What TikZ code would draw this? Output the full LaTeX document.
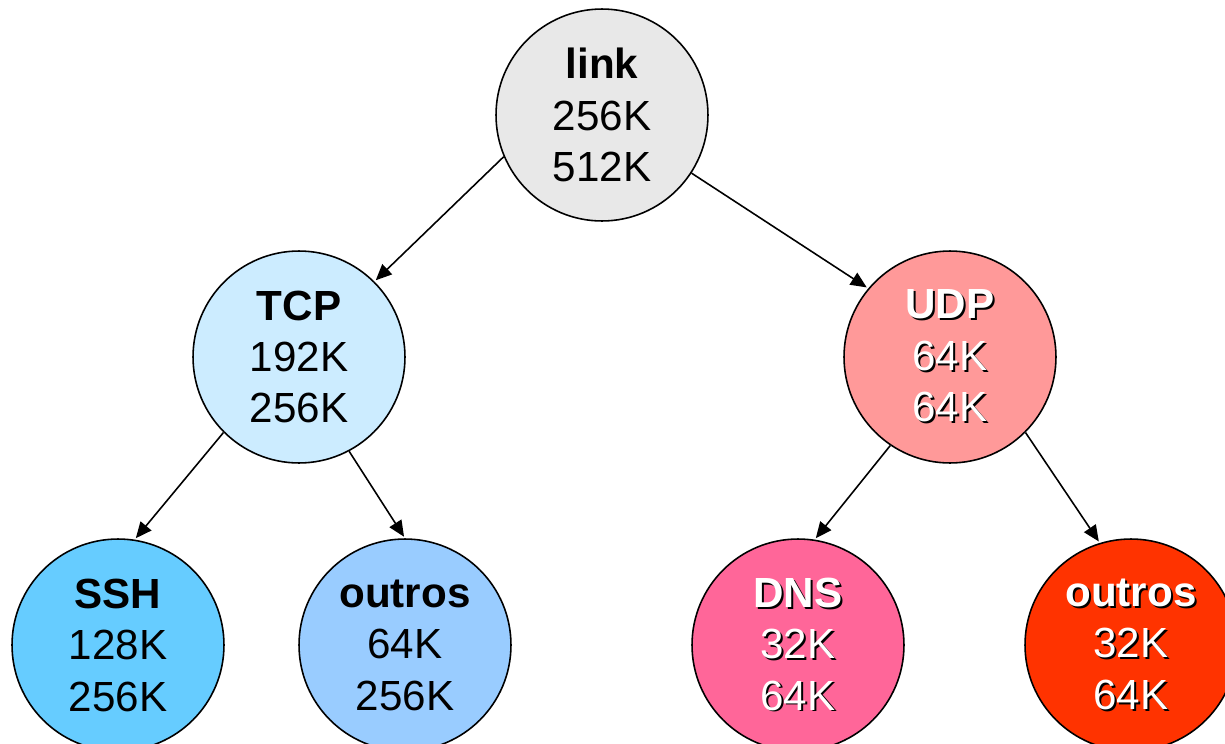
\documentclass[tikz,border=0pt]{standalone}
\usepackage{fontspec}
\setmainfont{Liberation Sans}
\usetikzlibrary{arrows.meta}
\definecolor{clink}{HTML}{E8E8E8}
\definecolor{ctcp}{HTML}{CCECFF}
\definecolor{cudp}{HTML}{FF9999}
\definecolor{cssh}{HTML}{66CCFF}
\definecolor{ctout}{HTML}{99CCFF}
\definecolor{cdns}{HTML}{FF6699}
\definecolor{cuout}{HTML}{FF3300}
\newcommand{\shtxt}[1]{\makebox[0pt][l]{\raisebox{-1.1pt}{\hspace{1.1pt}\textcolor{black}{#1}}}\textcolor{white}{#1}}
\tikzset{
  tnode/.style={circle, draw=black, line width=0.9pt, minimum size=4.24cm, inner sep=0pt,
    align=center, font=\fontsize{24}{29.3}\selectfont, text=black},
  conn/.style={draw=black, line width=0.9pt, -{Triangle[length=3.2mm,width=2.8mm]}, shorten >=1pt}
}
\begin{document}
\begin{tikzpicture}[x=0.02cm,y=-0.02cm]
\useasboundingbox (0,0) rectangle (1225,744);
\clip (0,0) rectangle (1225,744);
\node[tnode, fill=clink] (link) at (602,115) {\textbf{link}\\256K\\512K};
\node[tnode, fill=ctcp] (tcp) at (299,357) {\textbf{TCP}\\192K\\256K};
\node[tnode, fill=cudp] (udp) at (950,357) {\shtxt{\textbf{UDP}}\\\shtxt{64K}\\\shtxt{64K}};
\node[tnode, fill=cssh] (ssh) at (118,645) {\textbf{SSH}\\128K\\256K};
\node[tnode, fill=ctout] (tout) at (405,645) {\textbf{outros}\\64K\\256K};
\node[tnode, fill=cdns] (dns) at (798,645) {\shtxt{\textbf{DNS}}\\\shtxt{32K}\\\shtxt{64K}};
\node[tnode, fill=cuout] (uout) at (1131,645) {\shtxt{\textbf{outros}}\\\shtxt{32K}\\\shtxt{64K}};
\draw[conn] (link.203) -- (tcp.45);
\draw[conn] (link.-33) -- (udp.140);
\draw[conn] (tcp.225) -- (ssh.81);
\draw[conn] (tcp.-62) -- (tout.90);
\draw[conn] (udp.236) -- (dns.81);
\draw[conn] (udp.-45) -- (uout.107);
\end{tikzpicture}
\end{document}
